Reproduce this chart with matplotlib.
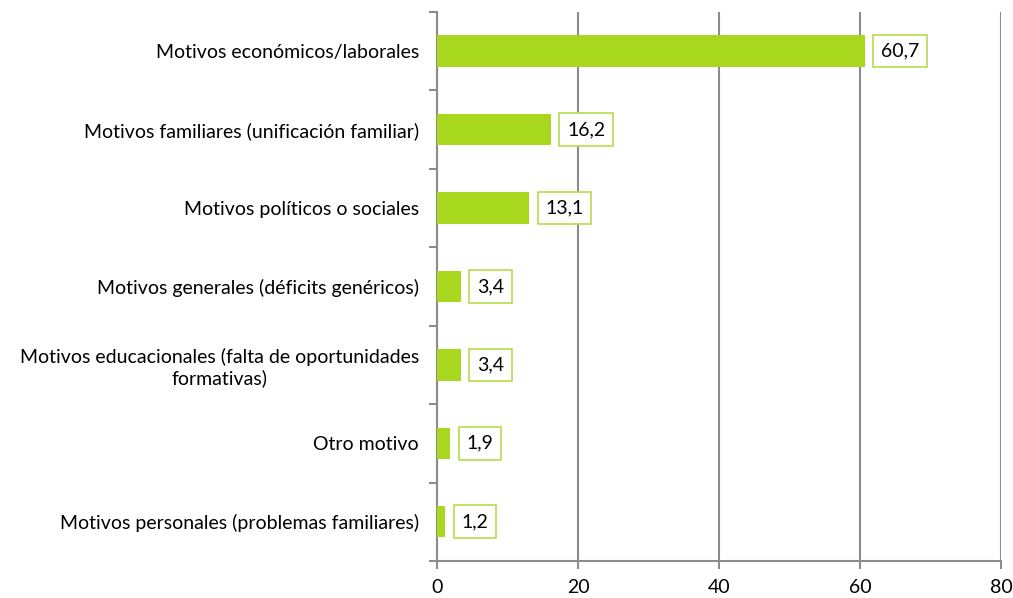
import matplotlib.pyplot as plt
import numpy as np

categories = [
    "Motivos económicos/laborales",
    "Motivos familiares (unificación familiar)",
    "Motivos políticos o sociales",
    "Motivos generales (déficits genéricos)",
    "Motivos educacionales (falta de oportunidades\nformativas)",
    "Otro motivo",
    "Motivos personales (problemas familiares)",
]
values = [60.7, 16.2, 13.1, 3.4, 3.4, 1.9, 1.2]
value_labels = ["60,7", "16,2", "13,1", "3,4", "3,4", "1,9", "1,2"]
xticks = [0, 20, 40, 60, 80]

plt.rcParams['font.family'] = ['Lato', 'DejaVu Sans']
bar_color = '#A8D81E'
edge_green = '#B5DC4E'
grid_gray = '#8C8C8C'
fs = 14

fig = plt.figure(figsize=(10.13, 5.98), dpi=100)
ax = fig.add_axes([0.4314, 0.062, 0.5567, 0.918])

y = np.arange(len(categories))
ax.barh(y, values, height=0.4, color=bar_color, zorder=3)
ax.set_ylim(len(categories) - 0.5, -0.5)
ax.set_xlim(0, 80)

ax.set_xticks(xticks)
ax.set_xticklabels([str(t) for t in xticks], fontsize=fs)
ax.xaxis.grid(True, color=grid_gray, linewidth=1.5, zorder=0)
ax.tick_params(axis='x', direction='out', length=6, width=1.5, color=grid_gray, pad=7)

ax.set_yticks(y)
ax.set_yticklabels(categories, fontsize=fs, multialignment='center')
ax.set_yticks(np.arange(-0.5, len(categories)), minor=True)
ax.tick_params(axis='y', which='major', length=0, pad=13)
ax.tick_params(axis='y', which='minor', direction='out', length=6, width=1.5, color=grid_gray)

for s in ['top', 'right']:
    ax.spines[s].set_visible(False)
for s in ['left', 'bottom']:
    ax.spines[s].set_color(grid_gray)
    ax.spines[s].set_linewidth(1.5)

# label boxes sit a few px to the right of each bar end
for yi, v, lab in zip(y, values, value_labels):
    ax.annotate(lab, xy=(v, yi), xytext=(11.5, 0), textcoords='offset points',
                va='center', ha='left', fontsize=fs, zorder=4,
                bbox=dict(boxstyle='square,pad=0.4', fc='white', ec=edge_green, lw=1.2))

fig.savefig('out.png', dpi=100)
